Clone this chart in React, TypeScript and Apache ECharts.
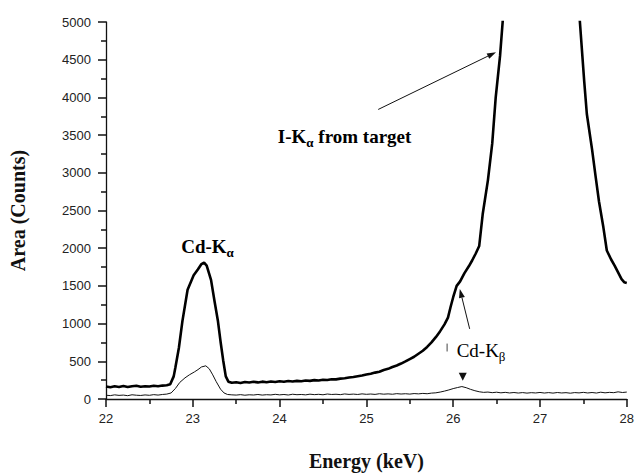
import React, { useEffect, useRef } from "react";
import * as echarts from "echarts";

// Upper (thick) spectrum: energy (keV) and counts
const thickEnergy = [
  22.0, 22.05, 22.1, 22.15, 22.2, 22.25, 22.3, 22.35, 22.4, 22.45, 22.5, 22.55, 22.6, 22.65, 22.7, 22.74,
  22.78, 22.8, 22.84, 22.88, 22.94, 23.01, 23.06, 23.1, 23.13, 23.16, 23.21, 23.25, 23.29, 23.32, 23.35,
  23.38, 23.41, 23.45, 23.5, 23.55, 23.6, 23.65, 23.7, 23.75, 23.8, 23.85, 23.9, 23.95, 24.0, 24.05, 24.1,
  24.15, 24.2, 24.25, 24.3, 24.35, 24.4, 24.45, 24.5, 24.55, 24.6, 24.65, 24.7, 24.75, 24.8, 24.85, 24.9,
  24.95, 25.0, 25.05, 25.1, 25.15, 25.2, 25.25, 25.3, 25.35, 25.4, 25.45, 25.5, 25.55, 25.6, 25.65, 25.7,
  25.75, 25.8, 25.85, 25.9, 25.94, 25.97, 26.0, 26.04, 26.08, 26.13, 26.18, 26.22, 26.26, 26.3, 26.34,
  26.4, 26.45, 26.49, 26.54, 26.57, 26.65, 26.8, 27.0, 27.2, 27.38, 27.46, 27.51, 27.54, 27.6, 27.64,
  27.68, 27.73, 27.77, 27.82, 27.86, 27.9, 27.94, 27.97, 28.0,
];
const thickCounts = [
  165, 155, 168, 160, 172, 158, 170, 175, 162, 170, 166, 176, 170, 178, 182, 195,
  300, 420, 680, 1030, 1450, 1640, 1720, 1790, 1810, 1770, 1580, 1300, 1030, 760, 515,
  300, 230, 215, 222, 212, 225, 218, 228, 220, 230, 222, 232, 226, 235, 228, 238,
  232, 240, 236, 245, 240, 250, 246, 256, 252, 262, 260, 270, 275, 284, 292, 302,
  312, 325, 335, 350, 362, 385, 400, 425, 445, 470, 498, 530, 560, 600, 640, 690,
  750, 820, 900, 990, 1080, 1220, 1350, 1500, 1560, 1670, 1760, 1840, 1930, 2030, 2450,
  2900, 3390, 4000, 4550, 5000, 6800, 9500, 11000, 9500, 6500, 5000, 4210, 3780, 3310, 2960,
  2620, 2280, 1970, 1850, 1770, 1680, 1590, 1550, 1540,
];

// Lower (thin) spectrum
const thinEnergy = [
  22.0, 22.05, 22.1, 22.15, 22.2, 22.25, 22.3, 22.35, 22.4, 22.45, 22.5, 22.55, 22.6, 22.65, 22.7, 22.75,
  22.8, 22.85, 22.91, 22.96, 23.02, 23.06, 23.1, 23.15, 23.19, 23.23, 23.27, 23.32, 23.36, 23.4, 23.45,
  23.5, 23.55, 23.6, 23.65, 23.7, 23.75, 23.8, 23.85, 23.9, 23.95, 24.0, 24.05, 24.1, 24.15, 24.2, 24.25,
  24.3, 24.35, 24.4, 24.45, 24.5, 24.55, 24.6, 24.65, 24.7, 24.75, 24.8, 24.85, 24.9, 24.95, 25.0, 25.05,
  25.1, 25.15, 25.2, 25.25, 25.3, 25.35, 25.4, 25.45, 25.5, 25.55, 25.6, 25.65, 25.7, 25.75, 25.8, 25.85,
  25.9, 25.95, 26.0, 26.05, 26.1, 26.15, 26.2, 26.25, 26.3, 26.35, 26.4, 26.45, 26.5, 26.55, 26.6, 26.65,
  26.7, 26.75, 26.8, 26.85, 26.9, 26.95, 27.0, 27.05, 27.1, 27.15, 27.2, 27.25, 27.3, 27.35, 27.4, 27.45,
  27.5, 27.55, 27.6, 27.65, 27.7, 27.75, 27.8, 27.85, 27.9, 27.95, 28.0,
];
const thinCounts = [
  50, 45, 55, 48, 52, 44, 56, 50, 47, 54, 49, 58, 52, 60, 65, 80,
  140, 220, 280, 320, 360, 390, 425, 440, 400, 320, 230, 130, 80, 60, 55,
  52, 58, 50, 56, 53, 60, 52, 57, 54, 62, 55, 60, 53, 63, 57, 60,
  55, 64, 58, 62, 56, 66, 60, 63, 58, 67, 61, 65, 60, 68, 62, 66,
  61, 70, 64, 68, 63, 71, 66, 70, 65, 72, 68, 74, 70, 78, 82, 92,
  105, 120, 138, 152, 165, 150, 128, 110, 96, 88, 92, 84, 90, 82, 88, 80,
  86, 79, 85, 78, 84, 80, 87, 79, 85, 78, 86, 80, 84, 77, 85, 81,
  88, 80, 86, 79, 90, 82, 88, 84, 95, 86, 92,
];

const yTicks = [0, 500, 1000, 1500, 2000, 2500, 3000, 3500, 4000, 4500, 5000];
const xTicks = [22, 23, 24, 25, 26, 27, 28];

const SERIF = "'Liberation Serif', 'Times New Roman', serif";
const SANS = "'Liberation Sans', Arial, sans-serif";

export default function App() {
  const ref = useRef<HTMLDivElement>(null);
  useEffect(() => {
    document.body.style.margin = "0";
    const chart = echarts.init(ref.current!, null, { renderer: "svg" });
    const thick = thickEnergy.map((e, i) => [e, thickCounts[i]]);
    const thin = thinEnergy.map((e, i) => [e, thinCounts[i]]);
    const lineStyle = { color: "#111", width: 1.3 };
    const tickStyle = { color: "#111", width: 1.5 };
    chart.setOption({
      animation: false,
      backgroundColor: "#ffffff",
      grid: { left: 100, right: 7, top: 22, bottom: 66 },
      xAxis: {
        type: "value",
        min: xTicks[0],
        max: xTicks[xTicks.length - 1],
        interval: 1,
        name: "Energy (keV)",
        nameLocation: "middle",
        nameGap: 52,
        nameTextStyle: { fontFamily: SERIF, fontWeight: "bold", fontSize: 20, color: "#111" },
        axisLine: { show: true, onZero: false, lineStyle },
        axisTick: { show: true, inside: false, length: 8, lineStyle: tickStyle },
        minorTick: { show: true, splitNumber: 2, length: 5, lineStyle: tickStyle },
        splitLine: { show: false },
        axisLabel: { fontFamily: SANS, fontSize: 13, color: "#222", margin: 13, formatter: (v: number) => String(v) },
      },
      yAxis: {
        type: "value",
        min: yTicks[0],
        max: yTicks[yTicks.length - 1],
        interval: 500,
        name: "Area (Counts)",
        nameLocation: "middle",
        nameGap: 78,
        nameTextStyle: { fontFamily: SERIF, fontWeight: "bold", fontSize: 20, color: "#111" },
        axisLine: { show: true, onZero: false, lineStyle },
        axisTick: { show: true, inside: false, length: 8, lineStyle: tickStyle },
        minorTick: { show: true, splitNumber: 2, length: 5, lineStyle: tickStyle },
        splitLine: { show: false },
        axisLabel: { fontFamily: SANS, fontSize: 13, color: "#222", margin: 15, formatter: (v: number) => String(v) },
      },
      series: [
        {
          type: "line",
          data: thick,
          showSymbol: false,
          symbol: "none",
          clip: true,
          lineStyle: { color: "#000", width: 2.6 },
        },
        {
          type: "line",
          data: thin,
          showSymbol: false,
          symbol: "none",
          clip: true,
          lineStyle: { color: "#111", width: 1 },
        },
      ],
    });

    const px = (e: number, c: number) => chart.convertToPixel({ gridIndex: 0 }, [e, c]) as number[];
    const arrow = (a: number[], b: number[], head: number, w: number) => {
      const dx = b[0] - a[0];
      const dy = b[1] - a[1];
      const L = Math.hypot(dx, dy);
      const ux = dx / L;
      const uy = dy / L;
      const bx = b[0] - ux * head;
      const by = b[1] - uy * head;
      return [
        { type: "line", shape: { x1: a[0], y1: a[1], x2: bx, y2: by }, style: { stroke: "#111", lineWidth: 1 }, z: 100 },
        {
          type: "polygon",
          shape: {
            points: [
              [b[0], b[1]],
              [bx - uy * w, by + ux * w],
              [bx + uy * w, by - ux * w],
            ],
          },
          style: { fill: "#111" },
          z: 100,
        },
      ];
    };

    const cdKa = px(23.17, 2040);
    const iKa = px(23.98, 3500);
    const cdKb = px(26.04, 660);
    const tri = px(26.11, 283);
    const mark1 = px(25.93, 735);
    const mark2 = px(25.93, 630);
    const richSub = (bold: boolean) => ({
      a: { fontFamily: SERIF, fontWeight: bold ? "bold" : "normal", fontSize: 19, color: "#111", lineHeight: 22, verticalAlign: "bottom" },
      s: { fontFamily: SERIF, fontWeight: bold ? "bold" : "normal", fontSize: 13, color: "#111", lineHeight: 22, verticalAlign: "bottom", padding: [0, 0, -3, 0] },
      b: { fontFamily: SERIF, fontWeight: bold ? "bold" : "normal", fontSize: 19, color: "#111", lineHeight: 22, verticalAlign: "bottom" },
    });

    chart.setOption({
      graphic: [
        {
          type: "text",
          x: cdKa[0],
          y: cdKa[1],
          style: { text: "{a|Cd-K}{s|α}", rich: richSub(true), align: "center", verticalAlign: "middle" },
          z: 100,
        },
        {
          type: "text",
          x: iKa[0],
          y: iKa[1],
          style: { text: "{a|I-K}{s|α}{b| from target}", rich: richSub(true), align: "left", verticalAlign: "middle" },
          z: 100,
        },
        {
          type: "text",
          x: cdKb[0],
          y: cdKb[1],
          style: { text: "{a|Cd-K}{s|β}", rich: richSub(false), align: "left", verticalAlign: "middle" },
          z: 100,
        },
        ...arrow(px(25.136, 3840), px(26.494, 4600), 9, 3),
        ...arrow(px(26.19, 930), px(26.076, 1460), 9, 3),
        {
          type: "polygon",
          shape: { points: [[tri[0] - 4, tri[1] - 5], [tri[0] + 4, tri[1] - 5], [tri[0], tri[1] + 3]] },
          style: { fill: "#111" },
          z: 100,
        },
        {
          type: "line",
          shape: { x1: mark1[0], y1: mark1[1], x2: mark2[0], y2: mark2[1] },
          style: { stroke: "#444", lineWidth: 1 },
          z: 100,
        },
      ],
    });
    return () => chart.dispose();
  }, []);
  return <div ref={ref} style={{ width: 637, height: 476 }} />;
}
